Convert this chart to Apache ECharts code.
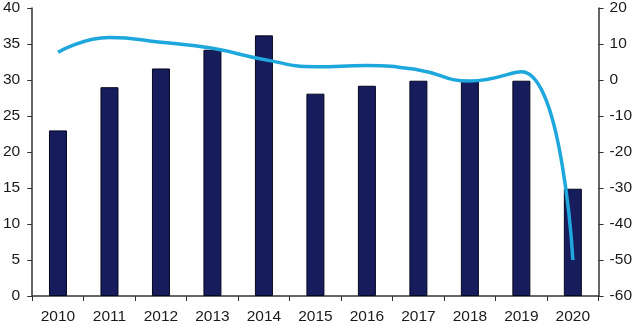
<!DOCTYPE html>
<html><head><meta charset="utf-8">
<script src="https://cdn.jsdelivr.net/npm/echarts@6/dist/echarts.min.js"></script>
<style>html,body{margin:0;padding:0;background:#fff}#c{width:635px;height:325px}</style>
</head><body><div id="c"></div>
<script>
const years = ['2010','2011','2012','2013','2014','2015','2016','2017','2018','2019','2020'];
const barValues = [23, 29, 31.6, 34.2, 36.2, 28.1, 29.2, 29.9, 29.8, 29.9, 14.9];
const lineValues = [7.7, 11.8, 10.5, 8.8, 5.7, 3.7, 4.0, 2.8, -0.3, 2.3, -50];

const chart = echarts.init(document.getElementById('c'));
const axisFont = {fontFamily: 'Liberation Sans, Arial, sans-serif', fontSize: 15.5, color: '#1a1a1a'};
chart.setOption({
  animation: false,
  backgroundColor: '#fff',
  grid: {left: 30, right: 34, top: 8, bottom: 28, containLabel: false},
  xAxis: {
    type: 'category', data: years, boundaryGap: true,
    axisLine: {lineStyle: {color: '#333', width: 1.5}},
    axisTick: {show: true, length: 5, alignWithLabel: false, lineStyle: {color: '#333'}},
    axisLabel: Object.assign({margin: 13}, axisFont)
  },
  yAxis: [{
    type: 'value', min: 0, max: 40, interval: 5, position: 'left',
    axisLine: {show: true, lineStyle: {color: '#333', width: 1.5}},
    axisTick: {show: true, inside: false, length: 5, lineStyle: {color: '#333'}},
    splitLine: {show: false},
    axisLabel: Object.assign({margin: 12}, axisFont)
  }, {
    type: 'value', min: -60, max: 20, interval: 10, position: 'right',
    axisLine: {show: true, lineStyle: {color: '#333', width: 1.5}},
    axisTick: {show: true, inside: false, length: 5, lineStyle: {color: '#333'}},
    splitLine: {show: false},
    axisLabel: Object.assign({margin: 11}, axisFont)
  }],
  series: [{
    type: 'bar', data: barValues, yAxisIndex: 0, barWidth: 18,
    itemStyle: {color: '#161c5c', borderColor: '#05071e', borderWidth: 1}
  }, {
    type: 'line', data: lineValues, yAxisIndex: 1, smooth: 0.5,
    symbol: 'none', lineStyle: {color: '#1ea7dc', width: 3.5}
  }]
});
</script></body></html>
